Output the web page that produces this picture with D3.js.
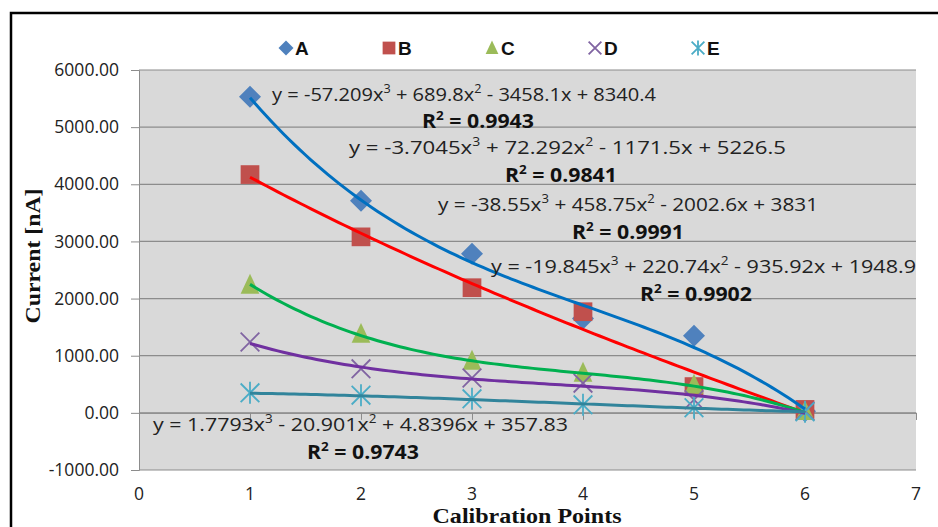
<!DOCTYPE html>
<meta charset='utf-8'>
<style>
    body { margin: 0; background: #fff; }
    .tick text { font-family: 'Open Sans', sans-serif; font-size: 17.5px; fill: #222; }
    .xlab { font-family: 'Open Sans', sans-serif; font-size: 17.5px; fill: #222; }
    .eq { font-family: 'Open Sans', sans-serif; font-size: 19px; fill: #222; }
    .r2 { font-family: 'Open Sans', sans-serif; font-size: 19px; font-weight: bold; fill: #111; }
    .title { font-family: 'Liberation Serif', serif; font-size: 21px; font-weight: bold; fill: #111; }
    .legend text { font-family: 'Liberation Sans', sans-serif; font-size: 19px; font-weight: bold; fill: #111; }
</style>

<svg width="938" height="527"></svg>
<script src="https://d3js.org/d3.v7.min.js"></script>

<script>

// calibration points
var points = [1, 2, 3, 4, 5, 6];
var seriesNames = ['A', 'B', 'C', 'D', 'E'];

var valuesA = [5530, 3710, 2785, 1650, 1350, 30];
var valuesB = [4170, 3080, 2190, 1770, 460, 60];
var valuesC = [2240, 1380, 910, 700, 490, 30];
var valuesD = [1240, 770, 610, 520, 230, 30];
var valuesE = [350, 310, 245, 140, 90, 20];

// trendline coefficients [x^3, x^2, x, c] and R^2, as printed on the chart
var coefA = [-57.209, 689.8, -3458.1, 8340.4];
var coefB = [-3.7045, 72.292, -1171.5, 5226.5];
var coefC = [-38.55, 458.75, -2002.6, 3831];
var coefD = [-19.845, 220.74, -935.92, 1948.9];
var coefE = [1.7793, -20.901, 4.8396, 357.83];
var r2 = ['0.9943', '0.9841', '0.9991', '0.9902', '0.9743'];

var yTicks = [-1000, 0, 1000, 2000, 3000, 4000, 5000, 6000];
var xTicks = [0, 1, 2, 3, 4, 5, 6, 7];

var svg = d3.select('svg');

var x = d3.scaleLinear().domain([0, 7]).range([139, 916]);
var y = d3.scaleLinear().domain([-1000, 6000]).range([470, 70]);

// outer frame
svg.append('rect')
    .attr('x', 11).attr('y', 13)
    .attr('width', 940).attr('height', 530)
    .attr('fill', '#fff')
    .attr('stroke', '#000')
    .attr('stroke-width', 2.5);

// plot area
svg.append('rect')
    .attr('x', x(0)).attr('y', y(6000))
    .attr('width', x(7) - x(0)).attr('height', y(-1000) - y(6000))
    .attr('fill', '#d9d9d9');

svg.append('g')
    .selectAll('line')
    .data(yTicks)
    .enter().append('line')
    .attr('x1', x(0)).attr('x2', x(7))
    .attr('y1', function(d) { return y(d); })
    .attr('y2', function(d) { return y(d); })
    .attr('stroke', '#8c8c8c')
    .attr('stroke-width', 1.2);

// y axis (plain hyphen for negatives, like the original)
var yFmt = function(d) { return d.toFixed(2); };
var yAxis = svg.append('g')
    .attr('transform', 'translate(' + x(0) + ',0)')
    .call(d3.axisLeft(y).tickValues(yTicks).tickFormat(yFmt).tickSize(8).tickPadding(12));
yAxis.select('.domain').attr('stroke', '#8c8c8c');
yAxis.selectAll('.tick line').attr('stroke', '#8c8c8c');
yAxis.selectAll('.tick text').attr('font-size', null).attr('font-family', null);

// x axis line at zero, labels at the bottom
var xAxis = svg.append('g')
    .attr('transform', 'translate(0,' + y(0) + ')')
    .call(d3.axisBottom(x).tickValues(xTicks).tickSize(7).tickFormat(''));
xAxis.select('.domain').attr('stroke', '#8c8c8c');
xAxis.selectAll('.tick line').attr('stroke', '#8c8c8c');

svg.append('g')
    .selectAll('text')
    .data(xTicks)
    .enter().append('text')
    .attr('class', 'xlab')
    .attr('x', function(d) { return x(d); })
    .attr('y', 500)
    .attr('text-anchor', 'middle')
    .text(function(d) { return d; });

// axis titles
svg.append('text')
    .attr('class', 'title')
    .attr('transform', 'translate(40,256) rotate(-90)')
    .attr('text-anchor', 'middle')
    .attr('textLength', 135)
    .attr('lengthAdjust', 'spacingAndGlyphs')
    .text('Current [nA]');

svg.append('text')
    .attr('class', 'title')
    .attr('x', 527).attr('y', 523)
    .attr('text-anchor', 'middle')
    .attr('textLength', 189)
    .attr('lengthAdjust', 'spacingAndGlyphs')
    .text('Calibration Points');

// series
var series = [
    { name: 'A', values: valuesA, coef: coefA, marker: '#4f81bd', line: '#0070c0', shape: 'diamond' },
    { name: 'B', values: valuesB, coef: coefB, marker: '#c0504d', line: '#ff0000', shape: 'square' },
    { name: 'C', values: valuesC, coef: coefC, marker: '#9bbb59', line: '#00b050', shape: 'triangle' },
    { name: 'D', values: valuesD, coef: coefD, marker: '#8064a2', line: '#7030a0', shape: 'cross' },
    { name: 'E', values: valuesE, coef: coefE, marker: '#4bacc6', line: '#31849b', shape: 'star' }
];

function poly(c, t) {
    return c[0] * t * t * t + c[1] * t * t + c[2] * t + c[3];
}

function drawMarker(g, shape, color, size) {
    var h = size / 2;
    if (shape === 'diamond') {
        g.append('path').attr('d', 'M0,' + (-h) + 'L' + h + ',0L0,' + h + 'L' + (-h) + ',0Z').attr('fill', color);
    } else if (shape === 'square') {
        var s = h * 0.85;
        g.append('rect').attr('x', -s).attr('y', -s).attr('width', 2 * s).attr('height', 2 * s).attr('fill', color);
    } else if (shape === 'triangle') {
        g.append('path').attr('d', 'M0,' + (-h) + 'L' + (h * 0.85) + ',' + (h * 0.8) + 'L' + (-h * 0.85) + ',' + (h * 0.8) + 'Z').attr('fill', color);
    } else if (shape === 'cross') {
        var c = h * 0.85;
        g.append('path').attr('d', 'M' + (-c) + ',' + (-c) + 'L' + c + ',' + c + 'M' + c + ',' + (-c) + 'L' + (-c) + ',' + c)
            .attr('stroke', color).attr('stroke-width', 1.8).attr('fill', 'none');
    } else {
        var a = h * 0.85;
        g.append('path').attr('d', 'M' + (-a) + ',' + (-a) + 'L' + a + ',' + a + 'M' + a + ',' + (-a) + 'L' + (-a) + ',' + a + 'M0,' + (-h) + 'L0,' + h)
            .attr('stroke', color).attr('stroke-width', 1.8).attr('fill', 'none');
    }
}

var line = d3.line()
    .x(function(d) { return x(d[0]); })
    .y(function(d) { return y(d[1]); });

var samples = d3.range(1, 6.0001, 0.05);

// markers first, trend lines drawn over them
series.forEach(function(s) {
    s.values.forEach(function(v, i) {
        var g = svg.append('g').attr('transform', 'translate(' + x(points[i]) + ',' + y(v) + ')');
        drawMarker(g, s.shape, s.marker, 22);
    });
});

series.forEach(function(s) {
    svg.append('path')
        .datum(samples.map(function(t) { return [t, poly(s.coef, t)]; }))
        .attr('d', line)
        .attr('fill', 'none')
        .attr('stroke', s.line)
        .attr('stroke-width', 3);
});

// equation labels
function fmt(v) { return String(Math.abs(v)); }

var eqPos = [
    { x: 272, y: 101, w: 384, rx: 478, ry: 128 },
    { x: 349, y: 154, w: 437, rx: 561, ry: 182 },
    { x: 438, y: 211, w: 380, rx: 628, ry: 239 },
    { x: 491, y: 273, w: 425, rx: 696, ry: 301 },
    { x: 153, y: 431, w: 415, rx: 363, ry: 459 }
];

series.forEach(function(s, i) {
    var c = s.coef;
    var t = svg.append('text').attr('class', 'eq')
        .attr('x', eqPos[i].x).attr('y', eqPos[i].y)
        .attr('textLength', eqPos[i].w)
        .attr('lengthAdjust', 'spacingAndGlyphs');
    t.append('tspan').text('y = ' + (c[0] < 0 ? '-' : '') + fmt(c[0]) + 'x');
    t.append('tspan').attr('dy', -8).style('font-size', '12px').text('3');
    t.append('tspan').attr('dy', 8).text(' ' + (c[1] < 0 ? '- ' : '+ ') + fmt(c[1]) + 'x');
    t.append('tspan').attr('dy', -8).style('font-size', '12px').text('2');
    t.append('tspan').attr('dy', 8).text(' ' + (c[2] < 0 ? '- ' : '+ ') + fmt(c[2]) + 'x ' + (c[3] < 0 ? '- ' : '+ ') + fmt(c[3]));

    var r = svg.append('text').attr('class', 'r2')
        .attr('x', eqPos[i].rx).attr('y', eqPos[i].ry)
        .attr('text-anchor', 'middle')
        .attr('textLength', 112)
        .attr('lengthAdjust', 'spacingAndGlyphs');
    r.append('tspan').text('R');
    r.append('tspan').attr('dy', -8).style('font-size', '12px').text('2');
    r.append('tspan').attr('dy', 8).text(' = ' + r2[i]);
});

// legend
var legend = svg.append('g').attr('class', 'legend');
series.forEach(function(s, i) {
    var lx = 286 + i * 103;
    var g = legend.append('g').attr('transform', 'translate(' + lx + ',48)');
    drawMarker(g, s.shape, s.marker, 15);
    g.append('text').attr('x', 9).attr('y', 7).text(s.name);
});

</script>
